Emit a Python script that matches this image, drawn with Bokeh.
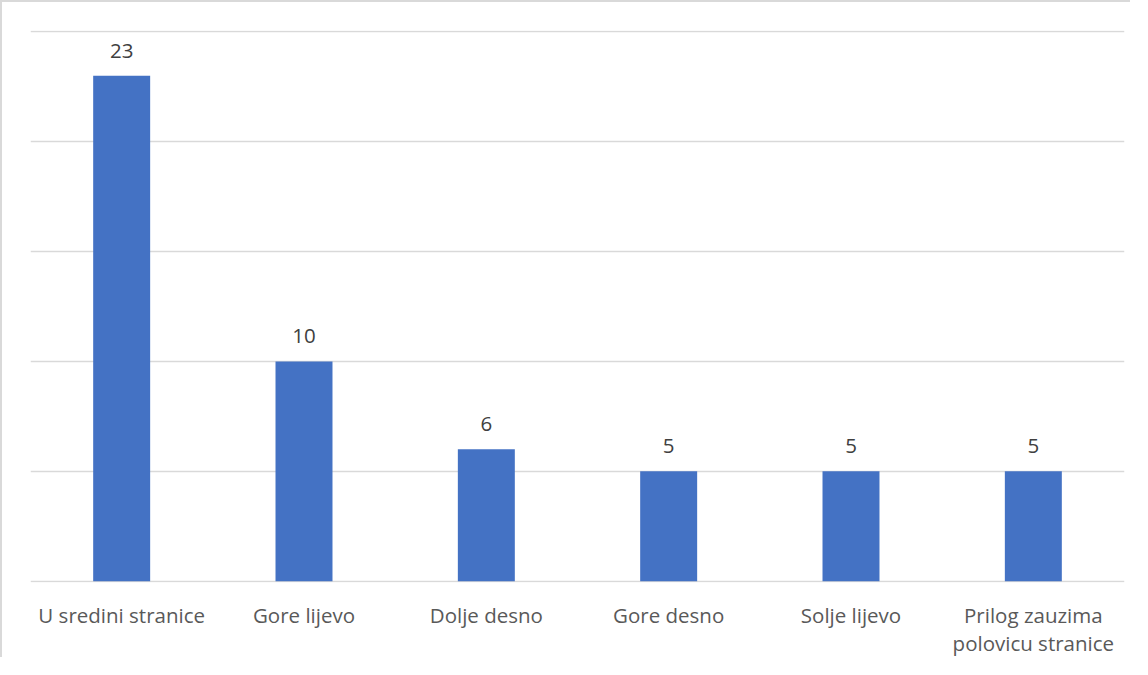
from bokeh.plotting import figure
from bokeh.models import ColumnDataSource, LabelSet, FixedTicker, Range1d, FactorRange
from bokeh.core.properties import value
from bokeh.embed import file_html
from bokeh.resources import INLINE

categories = ["U sredini stranice", "Gore lijevo", "Dolje desno", "Gore desno",
              "Solje lijevo", "Prilog zauzima\npolovicu stranice"]
values = [23, 10, 6, 5, 5, 5]
grid_ticks = [0, 5, 10, 15, 20, 25]

src = ColumnDataSource(dict(cat=categories, val=values, lab=[str(v) for v in values]))

W, H = 1130, 657
FRAME_L, FRAME_T, FRAME_R, FRAME_B = 28, 28, 1122, 582

p = figure(x_range=FactorRange(factors=categories, range_padding=0),
           y_range=Range1d(-0.06, 25.06), width=W, height=H,
           output_backend="svg", toolbar_location=None, y_axis_location=None,
           min_border_left=FRAME_L, min_border_top=FRAME_T,
           min_border_right=W - FRAME_R, min_border_bottom=H - FRAME_B)
p.styles = {"border-left": "2px solid #d9d9d9", "border-top": "2px solid #d9d9d9"}
p.outline_line_color = None
p.background_fill_color = "white"
p.border_fill_color = "white"

p.vbar(x="cat", top="val", bottom=0, width=0.3125, source=src,
       fill_color="#4472C4", line_color=None)

p.xgrid.grid_line_color = None
p.ygrid.ticker = FixedTicker(ticks=grid_ticks)
p.ygrid.grid_line_color = "#d9d9d9"
p.ygrid.grid_line_width = 1.3
p.ygrid.level = "underlay"

ax = p.xaxis[0]
ax.axis_line_color = None
ax.major_tick_line_color = None
ax.minor_tick_line_color = None
ax.major_label_text_font = "Open Sans"
ax.major_label_text_font_size = "20.5px"
ax.major_label_text_color = "#595959"
ax.major_label_standoff = 12
ax.major_label_text_line_height = 1.0

labels = LabelSet(x="cat", y="val", text="lab", source=src, y_offset=18,
                  text_align="center", text_baseline="alphabetic",
                  text_font=value("Open Sans"), text_font_size=value("20.5px"),
                  text_color="#404040")
p.add_layout(labels)

open("out.html", "w").write(file_html(p, INLINE))
